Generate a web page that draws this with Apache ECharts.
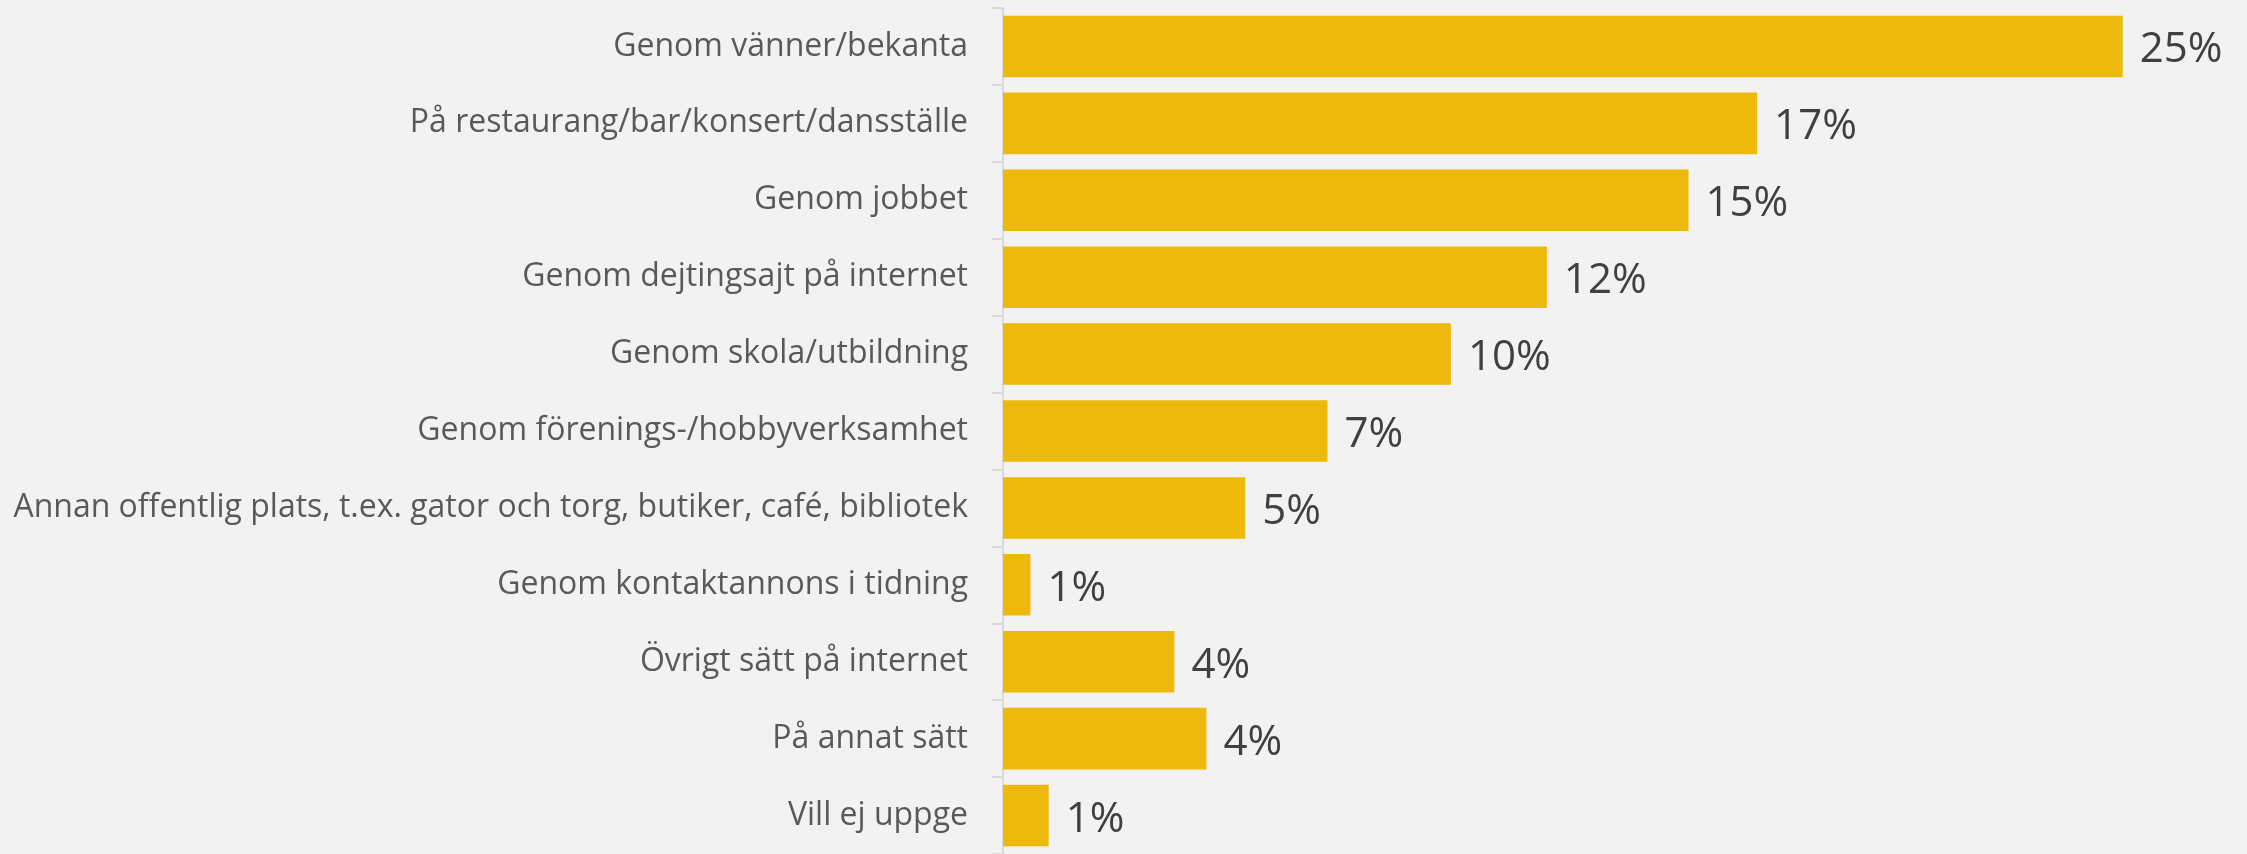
<!DOCTYPE html>
<html>
<head>
<meta charset="utf-8">
<script src="https://cdn.jsdelivr.net/npm/echarts@6/dist/echarts.min.js"></script>
<style>
  html, body { margin: 0; padding: 0; background: #f2f2f2; }
  #main { width: 2247px; height: 854px; }
</style>
</head>
<body>
<div id="main"></div>
<script>
var categories = [
    'Genom vänner/bekanta',
    'På restaurang/bar/konsert/dansställe',
    'Genom jobbet',
    'Genom dejtingsajt på internet',
    'Genom skola/utbildning',
    'Genom förenings-/hobbyverksamhet',
    'Annan offentlig plats, t.ex. gator och torg, butiker, café, bibliotek',
    'Genom kontaktannons i tidning',
    'Övrigt sätt på internet',
    'På annat sätt',
    'Vill ej uppge'
];
var values = [24.5, 16.5, 15.0, 11.9, 9.8, 7.1, 5.3, 0.6, 3.75, 4.45, 1.0];

var myChart = echarts.init(document.getElementById('main'));

var option = {
    backgroundColor: '#f2f2f2',
    textStyle: { fontFamily: 'Open Sans' },
    grid: {
        left: 1003,
        right: 10,
        top: 8,
        bottom: -2
    },
    xAxis: {
        type: 'value',
        min: 0,
        max: 27,
        show: false
    },
    yAxis: {
        type: 'category',
        inverse: true,
        data: categories,
        axisLine: { show: true, lineStyle: { color: '#d9d9d9', width: 2 } },
        axisTick: { show: true, length: 11, lineStyle: { color: '#d9d9d9', width: 2 } },
        axisLabel: {
            margin: 35,
            fontSize: 32,
            color: '#595959',
            fontFamily: 'Open Sans'
        }
    },
    series: [
        {
            type: 'bar',
            data: values,
            barCategoryGap: '20%',
            itemStyle: { color: '#eeb90d' },
            label: {
                show: true,
                position: 'right',
                distance: 17,
                offset: [0, 4],
                fontSize: 42,
                color: '#404040',
                fontFamily: 'Open Sans',
                formatter: function (p) {
                    return Math.round(p.value) + '%';
                }
            }
        }
    ]
};

myChart.setOption(option);
</script>
</body>
</html>
